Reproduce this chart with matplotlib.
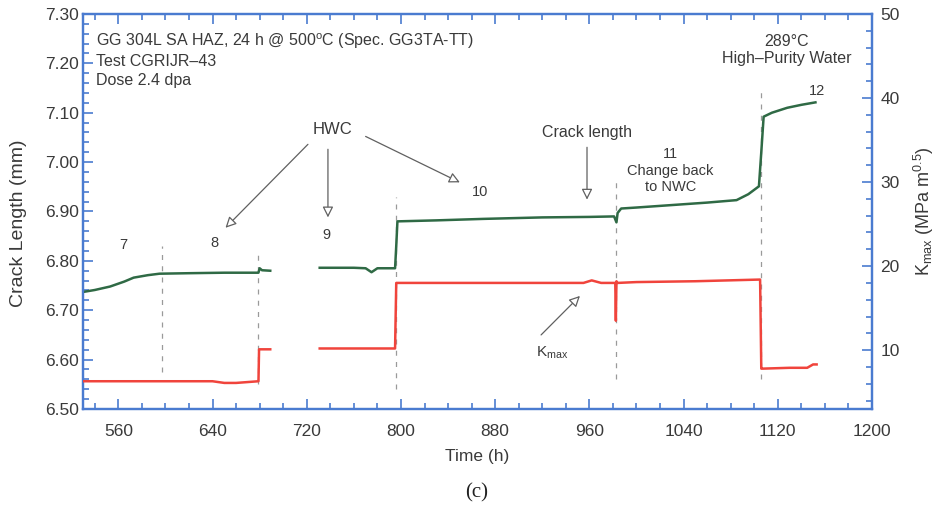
import numpy as np
import matplotlib
matplotlib.use("Agg")
import matplotlib.pyplot as plt
from matplotlib.ticker import MultipleLocator, FormatStrFormatter

nan = np.nan

# crack length (mm) vs time (h); NaN marks the gap in the record
crack_t = [530, 540, 553, 565, 573, 585, 595, 620, 650, 679, 680, 682, 689,
           nan, 731, 760, 770, 775, 780, 795, 796, 797, 830, 870, 920, 960,
           981, 983, 984, 987, 1000, 1030, 1060, 1085, 1095, 1104, 1106,
           1108, 1115, 1128, 1140, 1152]
crack_mm = [6.737, 6.741, 6.748, 6.758, 6.766, 6.771, 6.774, 6.775, 6.776,
            6.776, 6.785, 6.781, 6.780, nan, 6.786, 6.786, 6.785, 6.777,
            6.785, 6.785, 6.830, 6.880, 6.882, 6.885, 6.888, 6.889, 6.890,
            6.878, 6.897, 6.906, 6.908, 6.913, 6.918, 6.923, 6.935, 6.951,
            7.020, 7.092, 7.100, 7.110, 7.116, 7.121]

# stress intensity K_max (MPa m^0.5) vs time (h)
kmax_t = [530, 640, 650, 660, 679, 679.5, 689, nan, 731, 795, 796, 940,
          955, 962, 970, 982, 982.5, 983, 984, 1000, 1050, 1105, 1106,
          1107, 1130, 1145, 1150, 1153]
kmax = [6.3, 6.3, 6.1, 6.1, 6.3, 10.1, 10.1, nan, 10.2, 10.2, 18.0, 18.0,
        18.0, 18.3, 18.0, 18.0, 13.5, 18.2, 18.0, 18.1, 18.2, 18.4, 7.8,
        7.8, 7.9, 7.9, 8.3, 8.3]

# environment change times and the span of each marker line (mm)
change_t = [597, 679, 796, 983, 1106]
change_lo = [6.575, 6.55, 6.54, 6.56, 6.56]
change_hi = [6.83, 6.82, 6.93, 6.96, 7.145]

# step numbers
step_lbl = ["7", "8", "9", "10", "12"]
step_t = [564, 642, 737, 867, 1153]
step_mm = [6.833, 6.837, 6.853, 6.94, 7.144]

BLUE = "#4a7bd0"
GREEN = "#2f6a45"
RED = "#f0443c"
TXT = "#3a3a3a"
ARW = "#606060"

plt.rcParams["font.family"] = ["Liberation Sans", "DejaVu Sans"]
plt.rcParams["mathtext.fontset"] = "custom"
plt.rcParams["mathtext.rm"] = "Liberation Sans"
plt.rcParams["mathtext.it"] = "Liberation Sans"

fig = plt.figure(figsize=(9.37, 5.16), dpi=100)
ax = fig.add_axes([0.0886, 0.2074, 0.8420, 0.7655])
ax2 = ax.twinx()

for t, lo, hi in zip(change_t, change_lo, change_hi):
    ax.plot([t, t], [lo, hi], color="#9a9a9a", lw=0.9,
            linestyle=(0, (4, 5)), zorder=1)

ax.plot(crack_t, crack_mm, color=GREEN, lw=1.8, zorder=3)
ax2.plot(kmax_t, kmax, color=RED, lw=1.8, zorder=3)

ax.set_xlim(530, 1200)
ax.set_ylim(6.50, 7.30)
ax2.set_ylim(3, 50)

ax.xaxis.set_minor_locator(MultipleLocator(20))
ax.set_xticks(np.arange(560, 1201, 80))
ax.yaxis.set_major_locator(MultipleLocator(0.10))
ax.yaxis.set_minor_locator(MultipleLocator(0.02))
ax.yaxis.set_major_formatter(FormatStrFormatter("%.2f"))
ax2.yaxis.set_minor_locator(MultipleLocator(2))
ax2.set_yticks([10, 20, 30, 40, 50])

ax.tick_params(axis="both", which="both", direction="in", color=BLUE,
               labelcolor=TXT, labelsize=12.5)
ax.tick_params(axis="x", which="both", top=True, pad=11)
ax.tick_params(axis="y", which="both", right=False, pad=3)
ax.tick_params(which="major", length=7, width=1.2)
ax.tick_params(which="minor", length=4.5, width=1.2)
ax2.tick_params(axis="y", which="both", direction="in", color=BLUE,
                labelcolor=TXT, labelsize=12.5, pad=6)
ax2.tick_params(which="major", length=7, width=1.2)
ax2.tick_params(which="minor", length=4.5, width=1.2)

for a in (ax, ax2):
    for sp in a.spines.values():
        sp.set_color(BLUE)
        sp.set_linewidth(1.6)

ax.set_xlabel("Time (h)", fontsize=12.5, color=TXT, labelpad=7)
ax.set_ylabel("Crack Length (mm)", fontsize=14, color=TXT)
ax.yaxis.set_label_coords(-0.071, 0.47)
ax2.set_ylabel(r"K$_{\rm max}$ (MPa m$^{0.5}$)", fontsize=13, color=TXT,
               labelpad=9)

# specimen info, top left
ax.text(0.0165, 0.957,
        "GG 304L SA HAZ, 24 h @ 500$^{\\rm o}$C (Spec. GG3TA-TT)\n"
        "Test CGRIJR\u201343\nDose 2.4 dpa",
        transform=ax.transAxes, ha="left", va="top", fontsize=11.5,
        color=TXT, linespacing=1.32)
ax.text(0.892, 0.950, "289\u00b0C\nHigh\u2013Purity Water",
        transform=ax.transAxes, ha="center", va="top", fontsize=11.5,
        color=TXT, linespacing=1.15)

for s, t, y in zip(step_lbl, step_t, step_mm):
    ax.text(t, y, s, ha="center", va="center", fontsize=10.5, color=TXT)
ax.text(1029, 6.983, "11\nChange back\nto NWC", ha="center", va="center",
        fontsize=10.5, color=TXT, linespacing=1.25)

arw = dict(arrowstyle="-|>", fc="white", ec=ARW, lw=0.9,
           mutation_scale=16, shrinkA=0, shrinkB=0)

ax.text(742, 7.066, "HWC", ha="center", va="center", fontsize=12,
        color=TXT)
ax.annotate("", xy=(651, 6.867), xytext=(721, 7.036), arrowprops=arw)
ax.annotate("", xy=(738, 6.888), xytext=(738, 7.026), arrowprops=arw)
ax.annotate("", xy=(850, 6.959), xytext=(770, 7.052), arrowprops=arw)

ax.text(958, 7.060, "Crack length", ha="center", va="center",
        fontsize=11.5, color=TXT)
ax.annotate("", xy=(958, 6.924), xytext=(958, 7.030), arrowprops=arw)

ax.text(928, 6.614, r"K$_{\rm max}$", ha="center", va="center",
        fontsize=11, color=TXT)
ax.annotate("", xy=(952, 6.729), xytext=(919, 6.650), arrowprops=arw)

fig.text(0.509, 0.045, "(c)", ha="center", va="center", fontsize=15,
         family="Liberation Serif", color="#222222")

fig.savefig("out.png", dpi=100)
